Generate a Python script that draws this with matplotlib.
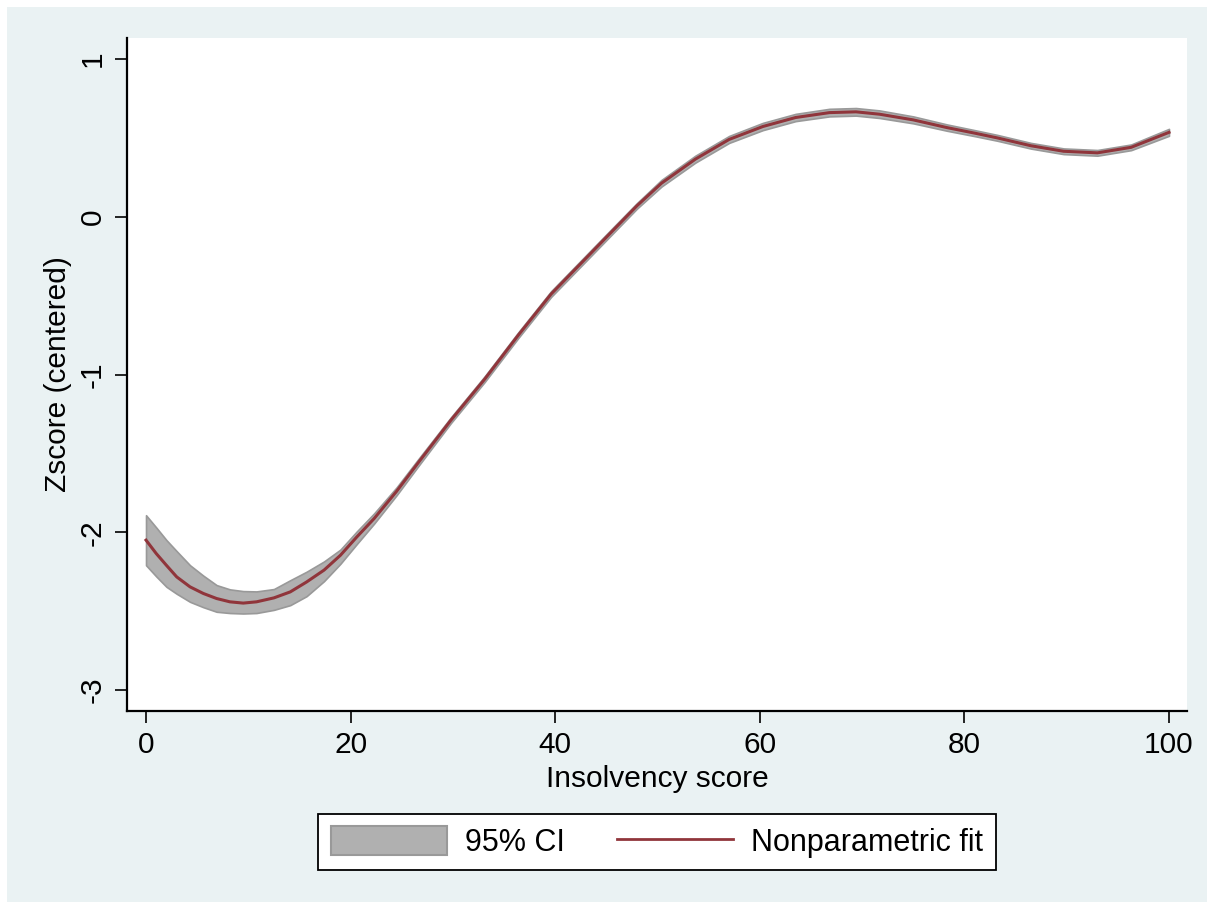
import matplotlib
matplotlib.use("Agg")
import matplotlib.pyplot as plt
from matplotlib.patches import Patch, Rectangle
from matplotlib.lines import Line2D

plt.rcParams["font.family"] = ["Liberation Sans", "DejaVu Sans"]

BG = "#eaf2f3"
FIT = "#90353b"
CI_FILL = "#b0b0b0"
CI_EDGE = "#999999"

# insolvency score grid
score = [0, 1, 2, 3, 4.3, 5.6, 6.9, 8.2, 9.5, 10.8,
         12.5, 14.1, 15.7, 17.4, 19, 20.6, 22.3, 24.5, 26.6, 29.8,
         33.1, 36.4, 39.6, 42.6, 45.9, 48, 50.4, 53.7, 57, 60.3,
         63.5, 66.8, 69.4, 71.7, 75, 78.3, 81, 83.2, 86.5, 89.7,
         93, 96.3, 100]

fit = [-2.05, -2.135, -2.21, -2.283, -2.346, -2.388, -2.42, -2.441, -2.449, -2.441,
       -2.416, -2.378, -2.315, -2.24, -2.146, -2.03, -1.913, -1.74, -1.56, -1.29,
       -1.03, -0.75, -0.49, -0.29, -0.07, 0.07, 0.213, 0.365, 0.49, 0.572,
       0.629, 0.66, 0.665, 0.65, 0.614, 0.565, 0.53, 0.50, 0.45, 0.415,
       0.405, 0.44, 0.535]

ci_upper = [-1.892, -1.97, -2.05, -2.12, -2.209, -2.275, -2.335, -2.362, -2.373, -2.375,
            -2.36, -2.304, -2.25, -2.185, -2.11, -1.995, -1.88, -1.715, -1.538, -1.272,
            -1.012, -0.732, -0.472, -0.272, -0.052, 0.087, 0.234, 0.387, 0.512, 0.595,
            0.652, 0.684, 0.689, 0.674, 0.636, 0.585, 0.549, 0.519, 0.468, 0.433,
            0.423, 0.458, 0.557]

ci_lower = [-2.209, -2.28, -2.346, -2.39, -2.441, -2.475, -2.504, -2.512, -2.515, -2.512,
            -2.492, -2.462, -2.405, -2.31, -2.2, -2.075, -1.945, -1.765, -1.582, -1.308,
            -1.048, -0.768, -0.508, -0.308, -0.088, 0.052, 0.192, 0.343, 0.468, 0.549,
            0.606, 0.636, 0.641, 0.626, 0.592, 0.545, 0.511, 0.482, 0.432, 0.397,
            0.387, 0.422, 0.513]

xticks = [0, 20, 40, 60, 80, 100]
yticks = [-3, -2, -1, 0, 1]

W, H = 1214, 909
fig = plt.figure(figsize=(W / 100, H / 100), dpi=100, facecolor="white")
# graph region (white outer margin around it)
fig.patches.append(Rectangle((7 / W, 7 / H), 1 - 14 / W, 1 - 14 / H,
                             transform=fig.transFigure, facecolor=BG,
                             edgecolor="none", zorder=-10))

ax = fig.add_axes([127 / W, 1 - 711 / H, (1187 - 127) / W, (711 - 38) / H])
ax.set_facecolor("white")

ax.fill_between(score, ci_lower, ci_upper, facecolor=CI_FILL,
                edgecolor=CI_EDGE, linewidth=1.2, zorder=2)
ax.plot(score, fit, color=FIT, lw=2.2, zorder=3, solid_joinstyle="round")

ax.set_xlim(-1.86, 101.76)
ax.set_ylim(-3.133, 1.133)
ax.set_xticks(xticks)
ax.set_xticklabels([str(t) for t in xticks])
ax.set_yticks(yticks)
ax.set_yticklabels([str(t) for t in yticks], rotation=90, va="center")

for s in ("top", "right"):
    ax.spines[s].set_visible(False)
for s in ("left", "bottom"):
    ax.spines[s].set_linewidth(1.6)
    ax.spines[s].set_color("black")
ax.tick_params(axis="both", length=8.5, width=1.2, labelsize=21.5,
               direction="out", pad=6)

ax.set_xlabel("Insolvency score", fontsize=21.5, labelpad=4)
ax.set_ylabel("Zscore (centered)", fontsize=21.5, labelpad=5)

handles = [Patch(facecolor=CI_FILL, edgecolor=CI_EDGE, linewidth=1.5),
           Line2D([0], [0], color=FIT, lw=2.0)]
leg = fig.legend(handles, ["95% CI", "Nonparametric fit"], ncol=2,
                 loc="center", bbox_to_anchor=(657 / W, 1 - 842 / H),
                 fontsize=22, frameon=True, fancybox=False, framealpha=1,
                 handlelength=3.8, handleheight=1.1, handletextpad=0.6,
                 columnspacing=1.7, borderpad=0.4, borderaxespad=0)
leg.get_frame().set_edgecolor("black")
leg.get_frame().set_linewidth(1.3)
leg.get_frame().set_facecolor("white")

fig.savefig("out.png", dpi=100, facecolor="white")
